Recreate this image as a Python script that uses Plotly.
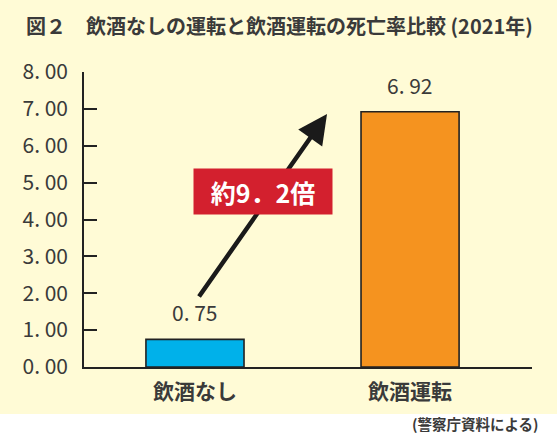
import plotly.graph_objects as go

# data
categories = ["飲酒なし", "飲酒運転"]
death_rate = [0.75, 6.92]
rate_labels = ["0. 75", "6. 92"]
bar_colors = ["#00B1EA", "#F5931F"]
tick_vals = [0, 1, 2, 3, 4, 5, 6, 7, 8]
tick_text = ["0. 00", "1. 00", "2. 00", "3. 00", "4. 00", "5. 00", "6. 00", "7. 00", "8. 00"]
ratio_text = "約9．2倍"
title_text = "図２　飲酒なしの運転と飲酒運転の死亡率比較 (2021年)"
source_text = "(警察庁資料による)"

FONT = "Noto Sans CJK JP"
TEXT_COLOR = "#3a3a3a"
CREAM = "#FFFBD6"

fig = go.Figure()

fig.add_trace(go.Bar(
    x=categories,
    y=death_rate,
    marker=dict(color=bar_colors, line=dict(color="#222222", width=1.6)),
    width=0.456,
    hoverinfo="skip",
))

# value labels above bars
for cat, val, lab in zip(categories, death_rate, rate_labels):
    fig.add_annotation(x=cat, y=val, text=lab, showarrow=False,
                       yanchor="bottom", yshift=10,
                       font=dict(family=FONT, size=21, color=TEXT_COLOR))

# arrow from the small bar toward the big one
fig.add_annotation(x=0.614, y=6.86, ax=0.014, ay=1.87,
                   xref="x", yref="y", axref="x", ayref="y",
                   text="", showarrow=True, arrowhead=2, arrowsize=1.3,
                   arrowwidth=4.5, arrowcolor="#1a1a1a")

# red ratio box
fig.add_annotation(x=0.243, y=0.673, xref="paper", yref="paper",
                   text="<b>" + ratio_text + "</b>", showarrow=False,
                   bgcolor="#D3202E", width=136, height=43,
                   font=dict(family=FONT, size=25, color="white"))

# source note
fig.add_annotation(x=1.02, y=-0.192, xref="paper", yref="paper",
                   text="<b>" + source_text + "</b>", showarrow=False,
                   xanchor="right", yanchor="middle",
                   font=dict(family=FONT, size=14.5, color=TEXT_COLOR))

# white strip under the cream panel
fig.add_shape(type="rect", xref="paper", yref="paper",
              x0=-0.3, x1=1.2, y0=-0.30, y1=-0.159,
              fillcolor="white", line=dict(width=0), layer="below")

fig.update_layout(
    width=557, height=435,
    margin=dict(l=84, r=25, t=72, b=68),
    paper_bgcolor=CREAM, plot_bgcolor=CREAM,
    showlegend=False,
    title=dict(text="<b>" + title_text + "</b>", xref="container", yref="container",
               x=0.0467, y=0.938, xanchor="left", yanchor="middle",
               font=dict(family=FONT, size=20, color=TEXT_COLOR)),
    font=dict(family=FONT, color=TEXT_COLOR),
)

fig.update_xaxes(range=[-0.516, 1.567], showline=True, linecolor="#222222",
                 linewidth=1.6, ticks="", showgrid=False, zeroline=False,
                 tickfont=dict(family=FONT, size=21, color=TEXT_COLOR, weight="bold"),
                 ticklabelstandoff=5)
fig.update_yaxes(range=[0, 8], tickvals=tick_vals, ticktext=tick_text,
                 showline=True, linecolor="#222222", linewidth=1.6,
                 ticks="inside", ticklen=13, tickwidth=1.6, tickcolor="#222222",
                 showgrid=False, zeroline=False,
                 tickfont=dict(family=FONT, size=21, color=TEXT_COLOR),
                 ticklabelstandoff=10)

# page body has a default margin, drop it so the figure sits at the corner
fig.write_html("out.html", config={"displayModeBar": False},
               post_script="document.body.style.margin='0';")
